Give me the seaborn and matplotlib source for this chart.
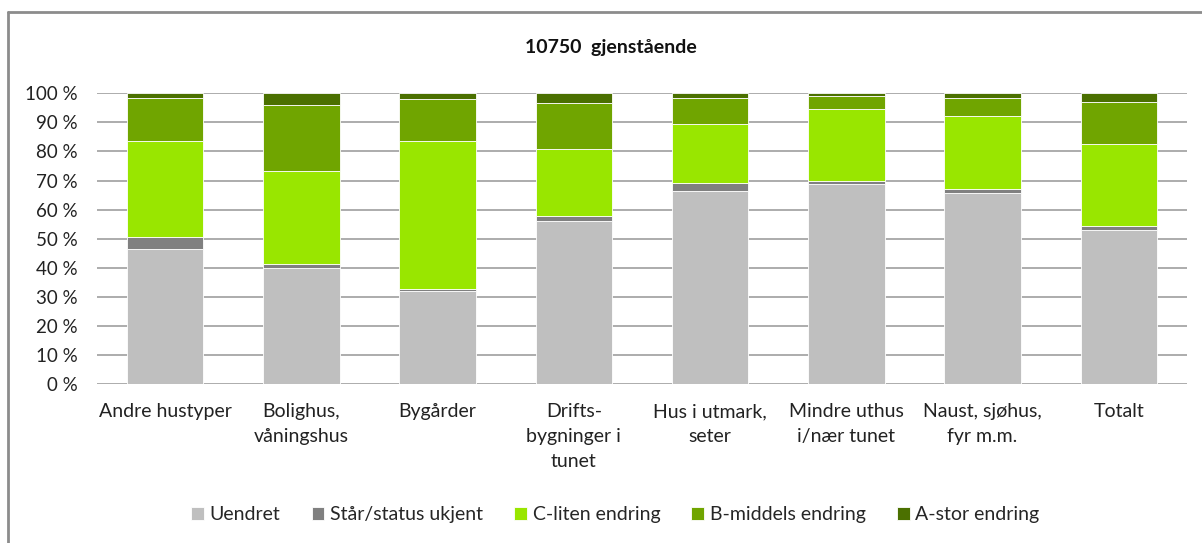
import numpy as np
import pandas as pd
import matplotlib
matplotlib.use('Agg')
import matplotlib.pyplot as plt
from matplotlib.lines import Line2D
import seaborn as sns

# Categories (x axis)
categories = ['Andre hustyper', 'Bolighus,\nvåningshus', 'Bygårder', 'Drifts-\nbygninger i\ntunet',
              'Hus i utmark,\nseter', 'Mindre uthus\ni/nær tunet', 'Naust, sjøhus,\nfyr m.m.', 'Totalt']

# Shares in percent (bottom to top)
uendret = [46.4, 40.0, 32.0, 56.1, 66.3, 68.9, 65.8, 53.1]
staar_ukjent = [4.1, 1.2, 0.7, 1.8, 3.0, 0.9, 1.4, 1.3]
c_liten = [33.0, 32.2, 50.8, 22.9, 20.0, 24.7, 25.1, 28.3]
b_middels = [15.0, 22.4, 14.5, 15.9, 9.2, 4.5, 6.2, 14.4]
a_stor = [1.5, 4.2, 2.0, 3.3, 1.5, 1.0, 1.5, 2.9]

series_names = ['Uendret', 'Står/status ukjent', 'C-liten endring', 'B-middels endring', 'A-stor endring']
series_values = [uendret, staar_ukjent, c_liten, b_middels, a_stor]
colors = ['#BFBFBF', '#808080', '#99E600', '#70A500', '#4B7000']

sns.set_style('white')
plt.rcParams['font.family'] = ['Lato', 'DejaVu Sans']

fig = plt.figure(figsize=(12.02, 5.43), dpi=100)
ax = fig.add_axes([0.0807, 0.2928, 0.9068, 0.5354])

bottom = np.zeros(len(categories))
for name, vals, col in zip(series_names, series_values, colors):
    sns.barplot(x=categories, y=vals, bottom=bottom, color=col, width=0.56, saturation=1,
                edgecolor='white', linewidth=0.6, label=name, ax=ax, zorder=3)
    bottom = bottom + np.array(vals)

ax.set_ylim(0, 100)
ax.set_xlim(-0.5, len(categories) - 0.5)
ax.set_yticks(range(0, 101, 10))
ax.set_yticklabels([f'{v} %' for v in range(0, 101, 10)], fontsize=13.5, color='#222222')
ax.tick_params(axis='x', labelsize=14, labelcolor='#222222', pad=14, length=0)
ax.tick_params(axis='y', length=0, pad=14)
for lbl in ax.get_xticklabels():
    lbl.set_linespacing(1.55)
ax.yaxis.grid(True, color='#A6A6A6', linewidth=1.3, zorder=0)
ax.set_axisbelow(True)
for s in ax.spines.values():
    s.set_visible(False)
ax.set_xlabel('')
ax.set_ylabel('')

fig.text(0.508, 0.913, '10750  gjenstående', ha='center', va='center',
         fontsize=14, fontweight='bold', color='#111111')

handles, labels = ax.get_legend_handles_labels()
ax.legend(handles, labels, loc='center', bbox_to_anchor=(0.512, 0.052),
          bbox_transform=fig.transFigure, ncol=5, frameon=False, fontsize=14,
          handlelength=0.65, handleheight=0.65, handletextpad=0.3, columnspacing=1.6)

# chart frame (top and left edges visible in the reference)
fig.add_artist(Line2D([0.0065, 0.0065], [0.0, 0.977], transform=fig.transFigure, color='#8C8C8C', lw=2))
fig.add_artist(Line2D([0.0065, 1.0], [0.977, 0.977], transform=fig.transFigure, color='#8C8C8C', lw=2))

fig.savefig('out.png', dpi=100)
